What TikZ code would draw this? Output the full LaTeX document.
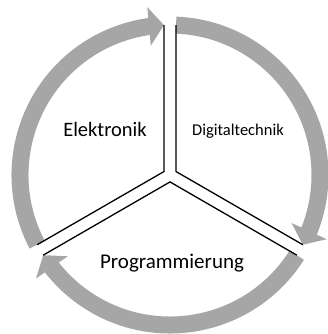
\documentclass[tikz,border=0pt]{standalone}
\usepackage{fontspec}
\setmainfont{Carlito}
\usetikzlibrary{arrows.meta,bending,calc}
\definecolor{ringgray}{RGB}{166,166,166}

\begin{document}
\begin{tikzpicture}[x=1pt, y=1pt,
    % ring arrows, divider lines and sector labels
    cyclearrow/.style={draw=ringgray, line width=17pt, -{Triangle[length=15pt, width=38pt, flex]}},
    divider/.style={draw=black, line width=1.3pt, line join=miter},
    sectorlabel/.style={anchor=base, inner sep=0pt, font=\fontsize{#1}{#1}\selectfont}
]
\useasboundingbox (0,0) rectangle (328,334);

\coordinate (c) at (170,159);

% Inner corners of the three sectors
\coordinate (corner_left) at ($(c)+(150:6.93)$);
\coordinate (corner_right) at ($(c)+(30:6.93)$);
\coordinate (corner_bottom) at ($(c)+(270:6.93)$);

% Where the divider lines meet the ring
\coordinate (top_l) at ($(c)+(92.3:150)$);
\coordinate (top_r) at ($(c)+(87.7:150)$);
\coordinate (right_u) at ($(c)+(-27.7:150)$);
\coordinate (right_d) at ($(c)+(-32.3:150)$);
\coordinate (left_u) at ($(c)+(207.7:150)$);
\coordinate (left_d) at ($(c)+(212.3:150)$);

% Ring of arrows
\draw[cyclearrow] (left_u) arc[start angle=207.7, end angle=92.3, radius=150];
\draw[cyclearrow] (top_r) arc[start angle=87.7, end angle=-27.7, radius=150];
\draw[cyclearrow] (right_d) arc[start angle=-32.3, end angle=-147.7, radius=150];

% Y-shaped dividers
\draw[divider] (top_l) -- (corner_left) -- (left_u);
\draw[divider] (top_r) -- (corner_right) -- (right_u);
\draw[divider] (left_d) -- (corner_bottom) -- (right_d);

% Labels
\node[sectorlabel=20.5] (elektronik) at (105,197) {Elektronik};
\node[sectorlabel=16.5] (digital) at (238,198) {Digitaltechnik};
\node[sectorlabel=21] (programm) at (172,65.7) {Programmierung};

\end{tikzpicture}
\end{document}
